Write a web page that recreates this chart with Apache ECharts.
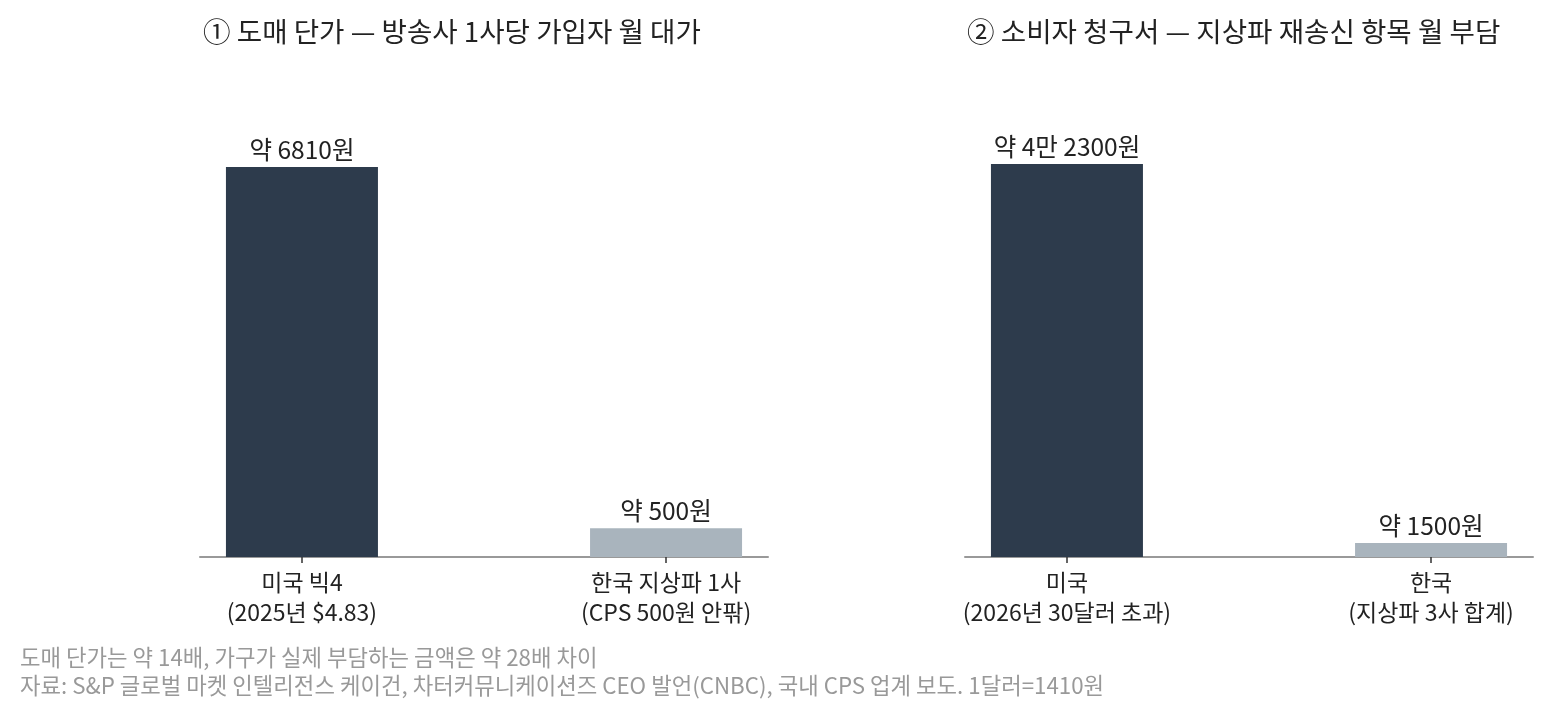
<!DOCTYPE html>
<html><head><meta charset="utf-8">
<script src="https://cdn.jsdelivr.net/npm/echarts@6/dist/echarts.min.js"></script>
<style>html,body{margin:0;padding:0;background:#fff}#c{width:1553px;height:717px}</style>
</head><body><div id="c"></div>
<script>
const titleLeft = '① 도매 단가 — 방송사 1사당 가입자 월 대가';
const titleRight = '② 소비자 청구서 — 지상파 재송신 항목 월 부담';
const catsLeft = ['미국 빅4\n(2025년 $4.83)', '한국 지상파 1사\n(CPS 500원 안팎)'];
const valsLeft = [6810, 500];
const labelsLeft = ['약 6810원', '약 500원'];
const catsRight = ['미국\n(2026년 30달러 초과)', '한국\n(지상파 3사 합계)'];
const valsRight = [42300, 1500];
const labelsRight = ['약 4만 2300원', '약 1500원'];
const footnotes = ['도매 단가는 약 14배, 가구가 실제 부담하는 금액은 약 28배 차이',
  '자료: S&P 글로벌 마켓 인텔리전스 케이건, 차터커뮤니케이션즈 CEO 발언(CNBC), 국내 CPS 업계 보도. 1달러=1410원'];
const colors = ['#2d3b4c', '#a9b4bd'];
const FONT = '"Noto Sans CJK KR", "Noto Sans", sans-serif';

const chart = echarts.init(document.getElementById('c'));
function xAxis(idx, cats) {
  const pos = cats.map((c, i) => i);
  return {
    type: 'value', gridIndex: idx, min: -0.28, max: 1.28,
    splitLine: {show: false},
    axisLine: {show: true, onZero: false, lineStyle: {color: '#999', width: 2}},
    axisTick: {show: true, customValues: pos, length: 6, lineStyle: {color: '#333', width: 1.5}},
    axisLabel: {customValues: pos, color: '#222', fontSize: 23, lineHeight: 30, margin: 10, fontFamily: FONT,
      formatter: v => cats[Math.round(v)]}
  };
}
function yAxis(idx, max) {
  return {type: 'value', gridIndex: idx, min: 0, max: max, show: false, splitLine: {show: false}};
}
function series(idx, vals, labels) {
  return {
    type: 'bar', xAxisIndex: idx, yAxisIndex: idx, barWidth: 152,
    data: vals.map((v, i) => ({value: [i, v], itemStyle: {color: colors[i]}})),
    label: {show: true, position: 'top', distance: 5, color: '#222', fontSize: 24.5, fontFamily: FONT,
      formatter: p => labels[p.dataIndex]}
  };
}
chart.setOption({
  animation: false,
  textStyle: {fontFamily: FONT},
  title: [
    {text: titleLeft, left: 198, top: 13, textStyle: {fontSize: 27.6, fontWeight: 'normal', color: '#222', fontFamily: FONT}},
    {text: titleRight, left: 962, top: 13, textStyle: {fontSize: 27.6, fontWeight: 'normal', color: '#222', fontFamily: FONT}},
    {text: footnotes.join('\n'), left: 15, top: 639, textStyle: {fontSize: 22.3, lineHeight: 28, fontWeight: 'normal', color: '#999', fontFamily: FONT}}
  ],
  grid: [
    {left: 200, width: 568, top: 100, bottom: 160},
    {left: 965, width: 568, top: 100, bottom: 160}
  ],
  xAxis: [xAxis(0, catsLeft), xAxis(1, catsRight)],
  yAxis: [yAxis(0, 7980), yAxis(1, 49190)],
  series: [series(0, valsLeft, labelsLeft), series(1, valsRight, labelsRight)]
});
</script></body></html>
